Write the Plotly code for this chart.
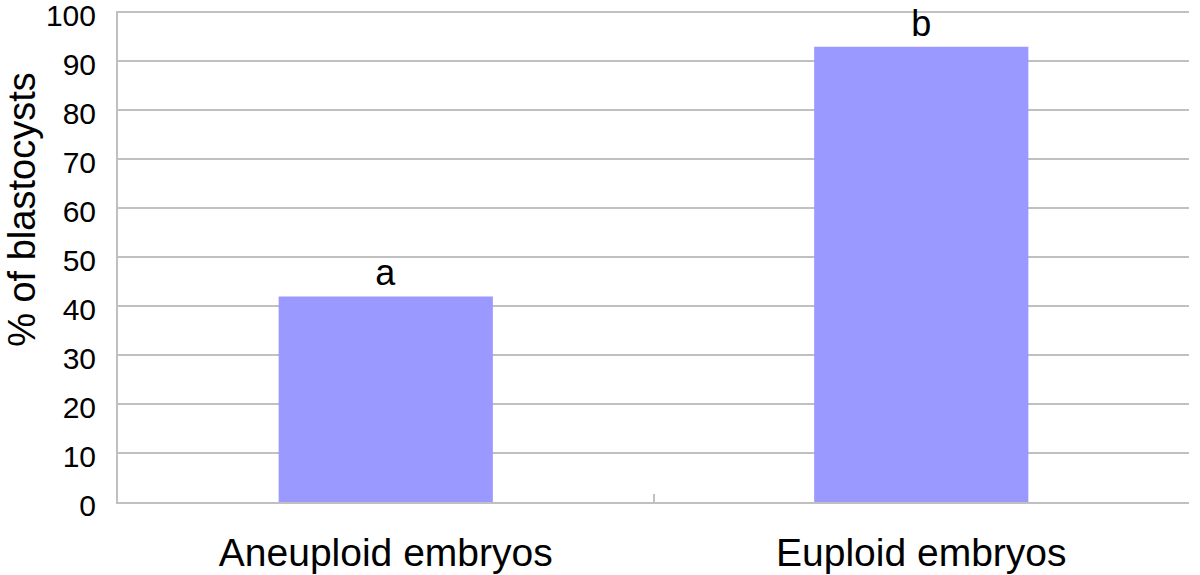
import plotly.graph_objects as go

categories = ["Aneuploid embryos", "Euploid embryos"]
values = [42, 93]
letters = ["a", "b"]
y_ticks = [0, 10, 20, 30, 40, 50, 60, 70, 80, 90, 100]

grid = "#C0C0C0"

fig = go.Figure()
fig.add_trace(go.Bar(
    x=categories,
    y=values,
    text=letters,
    textposition="outside",
    textfont=dict(size=36, color="#000"),
    marker=dict(color="#9999FF", line=dict(width=0)),
    width=0.4,
    cliponaxis=False,
))

# y title placed by hand: the original sits above the plot centre
fig.add_annotation(
    text="% of blastocysts",
    textangle=-90,
    xref="paper", yref="paper",
    x=0, y=0.595,
    xanchor="center", yanchor="middle",
    xshift=-96,
    showarrow=False,
    font=dict(size=38, color="#000"),
)

fig.update_layout(
    width=1200,
    height=575,
    margin=dict(l=118, r=11, t=11, b=73),
    paper_bgcolor="white",
    plot_bgcolor="white",
    font=dict(family="Liberation Sans, Arial, sans-serif", color="#000"),
    showlegend=False,
    xaxis=dict(
        range=[-0.5, 1.5],
        automargin=False,
        showline=True,
        linecolor=grid,
        linewidth=2,
        ticks="inside",
        tickson="boundaries",
        ticklen=8,
        tickwidth=2,
        tickcolor=grid,
        tickfont=dict(size=39),
        ticklabelstandoff=15,
        ticklabeloverflow="allow",
        showgrid=False,
    ),
    yaxis=dict(
        range=[0, 100.3],
        tickvals=y_ticks,
        automargin=False,
        showline=True,
        linecolor=grid,
        linewidth=2,
        showgrid=True,
        gridcolor=grid,
        gridwidth=2,
        zeroline=False,
        tickfont=dict(size=30),
        ticklabelstandoff=14,
        ticklabelshift=3,
        ticklabeloverflow="allow",
    ),
)

# drop the browser's default 8px body margin so the figure sits at (0, 0)
fig.write_html(
    "out.html",
    config={"displayModeBar": False},
    post_script="document.body.style.margin='0';document.body.style.overflow='hidden';",
)
